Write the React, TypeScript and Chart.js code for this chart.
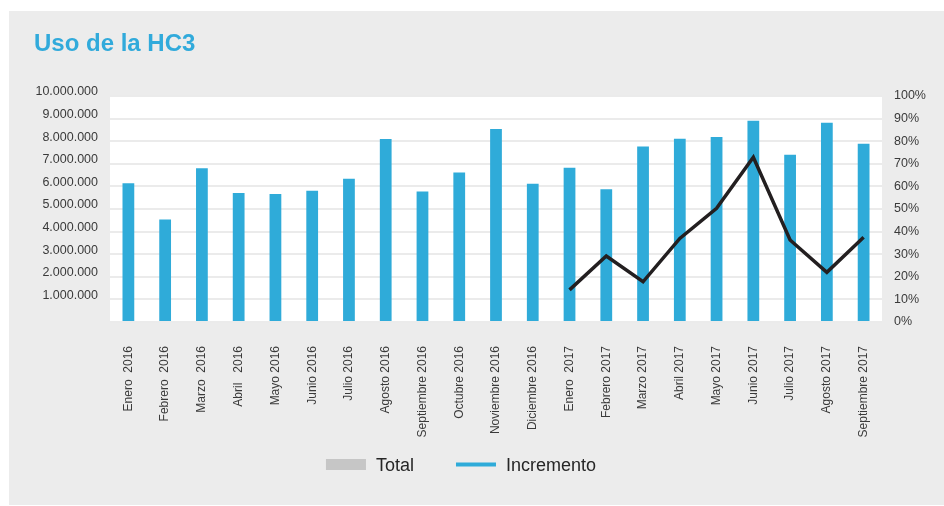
import React, { useEffect, useRef } from 'react';
import { Chart, registerables } from 'chart.js';

Chart.register(...registerables);

const categories = [
  'Enero  2016', 'Febrero  2016', 'Marzo  2016', 'Abril   2016', 'Mayo 2016', 'Junio 2016',
  'Julio 2016', 'Agosto 2016', 'Septiembre 2016', 'Octubre 2016', 'Noviembre 2016', 'Diciembre 2016',
  'Enero  2017', 'Febrero 2017', 'Marzo 2017', 'Abril 2017', 'Mayo 2017', 'Junio 2017',
  'Julio 2017', 'Agosto 2017', 'Septiembre 2017',
];

const totals = [
  6140000, 4540000, 6800000, 5710000, 5660000, 5810000,
  6340000, 8100000, 5770000, 6620000, 8540000, 6120000,
  6830000, 5870000, 7770000, 8110000, 8190000, 8910000,
  7400000, 8820000, 7890000,
];

const incremento = [
  null, null, null, null, null, null,
  null, null, null, null, null, null,
  14.2, 29.2, 17.8, 37.0, 50.3, 72.9,
  36.3, 22.0, 37.5,
];

const leftAxisMax = 10000000;
const leftAxisStep = 1000000;
const rightAxisMax = 100;
const rightAxisStep = 10;

const TITLE = 'Uso de la HC3';
const FONT = '"Liberation Sans", Arial, Helvetica, sans-serif';
const BLUE = '#2fabd9';
const TITLE_BLUE = '#31aadb';
const LINE_BLACK = '#231f20';
const PANEL = '#ececec';
const GRID = '#ebebeb';
const TEXT = '#3a3a3a';
const LEGEND_GRAY = '#c6c6c6';

function fmtThousands(v: number): string {
  return String(Math.round(v)).replace(/\B(?=(\d{3})+(?!\d))/g, '.');
}

const plotBackground = {
  id: 'plotBackground',
  beforeDraw(chart: any) {
    const { ctx, chartArea } = chart;
    ctx.save();
    ctx.fillStyle = '#ffffff';
    ctx.fillRect(chartArea.left, chartArea.top, chartArea.right - chartArea.left, chartArea.bottom - chartArea.top);
    ctx.restore();
  },
};

const customLegend = {
  id: 'customLegend',
  afterDraw(chart: any) {
    const { ctx, chartArea } = chart;
    const ds = chart.data.datasets;
    const items = [
      { text: ds[0].label, kind: 'box', color: LEGEND_GRAY },
      { text: ds[1].label, kind: 'line', color: BLUE },
    ];
    ctx.save();
    ctx.font = `18px ${FONT}`;
    const swatch = 40;
    const gapText = 10;
    const gapItems = 42;
    let total = 0;
    items.forEach((it, i) => {
      total += swatch + gapText + ctx.measureText(it.text).width;
      if (i < items.length - 1) total += gapItems;
    });
    const cx = chartArea.left + (chartArea.right - chartArea.left) / 2 - 35;
    let x = cx - total / 2;
    const cy = 453.5;
    items.forEach((it) => {
      if (it.kind === 'box') {
        ctx.fillStyle = it.color;
        ctx.fillRect(x, cy - 5.5, swatch, 11);
      } else {
        ctx.strokeStyle = it.color;
        ctx.lineWidth = 4;
        ctx.beginPath();
        ctx.moveTo(x, cy);
        ctx.lineTo(x + swatch, cy);
        ctx.stroke();
      }
      x += swatch + gapText;
      ctx.fillStyle = '#262626';
      ctx.textBaseline = 'alphabetic';
      ctx.textAlign = 'left';
      ctx.fillText(it.text, x, cy + 6.5);
      x += ctx.measureText(it.text).width + gapItems;
    });
    ctx.restore();
  },
};

export default function App() {
  const canvasRef = useRef<HTMLCanvasElement | null>(null);

  useEffect(() => {
    const canvas = canvasRef.current;
    if (!canvas) return;
    const chart = new Chart(canvas, {
      type: 'bar',
      data: {
        labels: categories,
        datasets: [
          {
            type: 'bar',
            label: 'Total',
            data: totals,
            backgroundColor: BLUE,
            borderWidth: 0,
            yAxisID: 'y',
            categoryPercentage: 1,
            barPercentage: 0.32,
            order: 1,
          },
          {
            type: 'line',
            label: 'Incremento',
            data: incremento,
            borderColor: LINE_BLACK,
            borderWidth: 3.5,
            pointRadius: 0,
            tension: 0,
            fill: false,
            borderJoinStyle: 'miter',
            yAxisID: 'y1',
            order: 0,
          },
        ] as any,
      },
      options: {
        responsive: false,
        animation: false,
        devicePixelRatio: 1,
        layout: { padding: { left: 25, right: 0, top: 0, bottom: 0 } },
        plugins: {
          legend: { display: false },
          tooltip: { enabled: false },
          title: {
            display: true,
            text: TITLE,
            align: 'start',
            color: TITLE_BLUE,
            font: { family: FONT, size: 24, weight: 'bold' },
            padding: { top: 18.6, bottom: 37.6 },
          },
        },
        scales: {
          x: {
            grid: { display: false, drawTicks: false },
            border: { display: false },
            ticks: {
              autoSkip: false,
              maxRotation: 90,
              minRotation: 90,
              padding: 24,
              color: TEXT,
              font: { family: FONT, size: 12 },
            },
            afterFit: (scale: any) => { scale.height = 183; },
          },
          y: {
            position: 'left',
            min: 0,
            max: leftAxisMax,
            grid: { color: GRID, lineWidth: 2, drawTicks: false },
            border: { display: false },
            ticks: {
              stepSize: leftAxisStep,
              padding: 12,
              labelOffset: -4,
              color: TEXT,
              font: { family: FONT, size: 12.5 },
              callback: (v: any) => (Number(v) === 0 ? '' : fmtThousands(Number(v))),
            },
            afterFit: (scale: any) => { scale.width = 76; },
          },
          y1: {
            position: 'right',
            min: 0,
            max: rightAxisMax,
            grid: { display: false, drawTicks: false },
            border: { display: false },
            ticks: {
              stepSize: rightAxisStep,
              padding: 12,
              color: TEXT,
              font: { family: FONT, size: 12.5 },
              callback: (v: any) => `${v}%`,
            },
            afterFit: (scale: any) => { scale.width = 62; },
          },
        },
      } as any,
      plugins: [plotBackground, customLegend],
    });
    return () => chart.destroy();
  }, []);

  return (
    <div
      style={{
        position: 'absolute',
        left: 9,
        top: 11,
        width: 935,
        height: 494,
        background: PANEL,
      }}
    >
      <canvas ref={canvasRef} width={935} height={494} style={{ display: 'block', width: 935, height: 494 }} />
    </div>
  );
}
